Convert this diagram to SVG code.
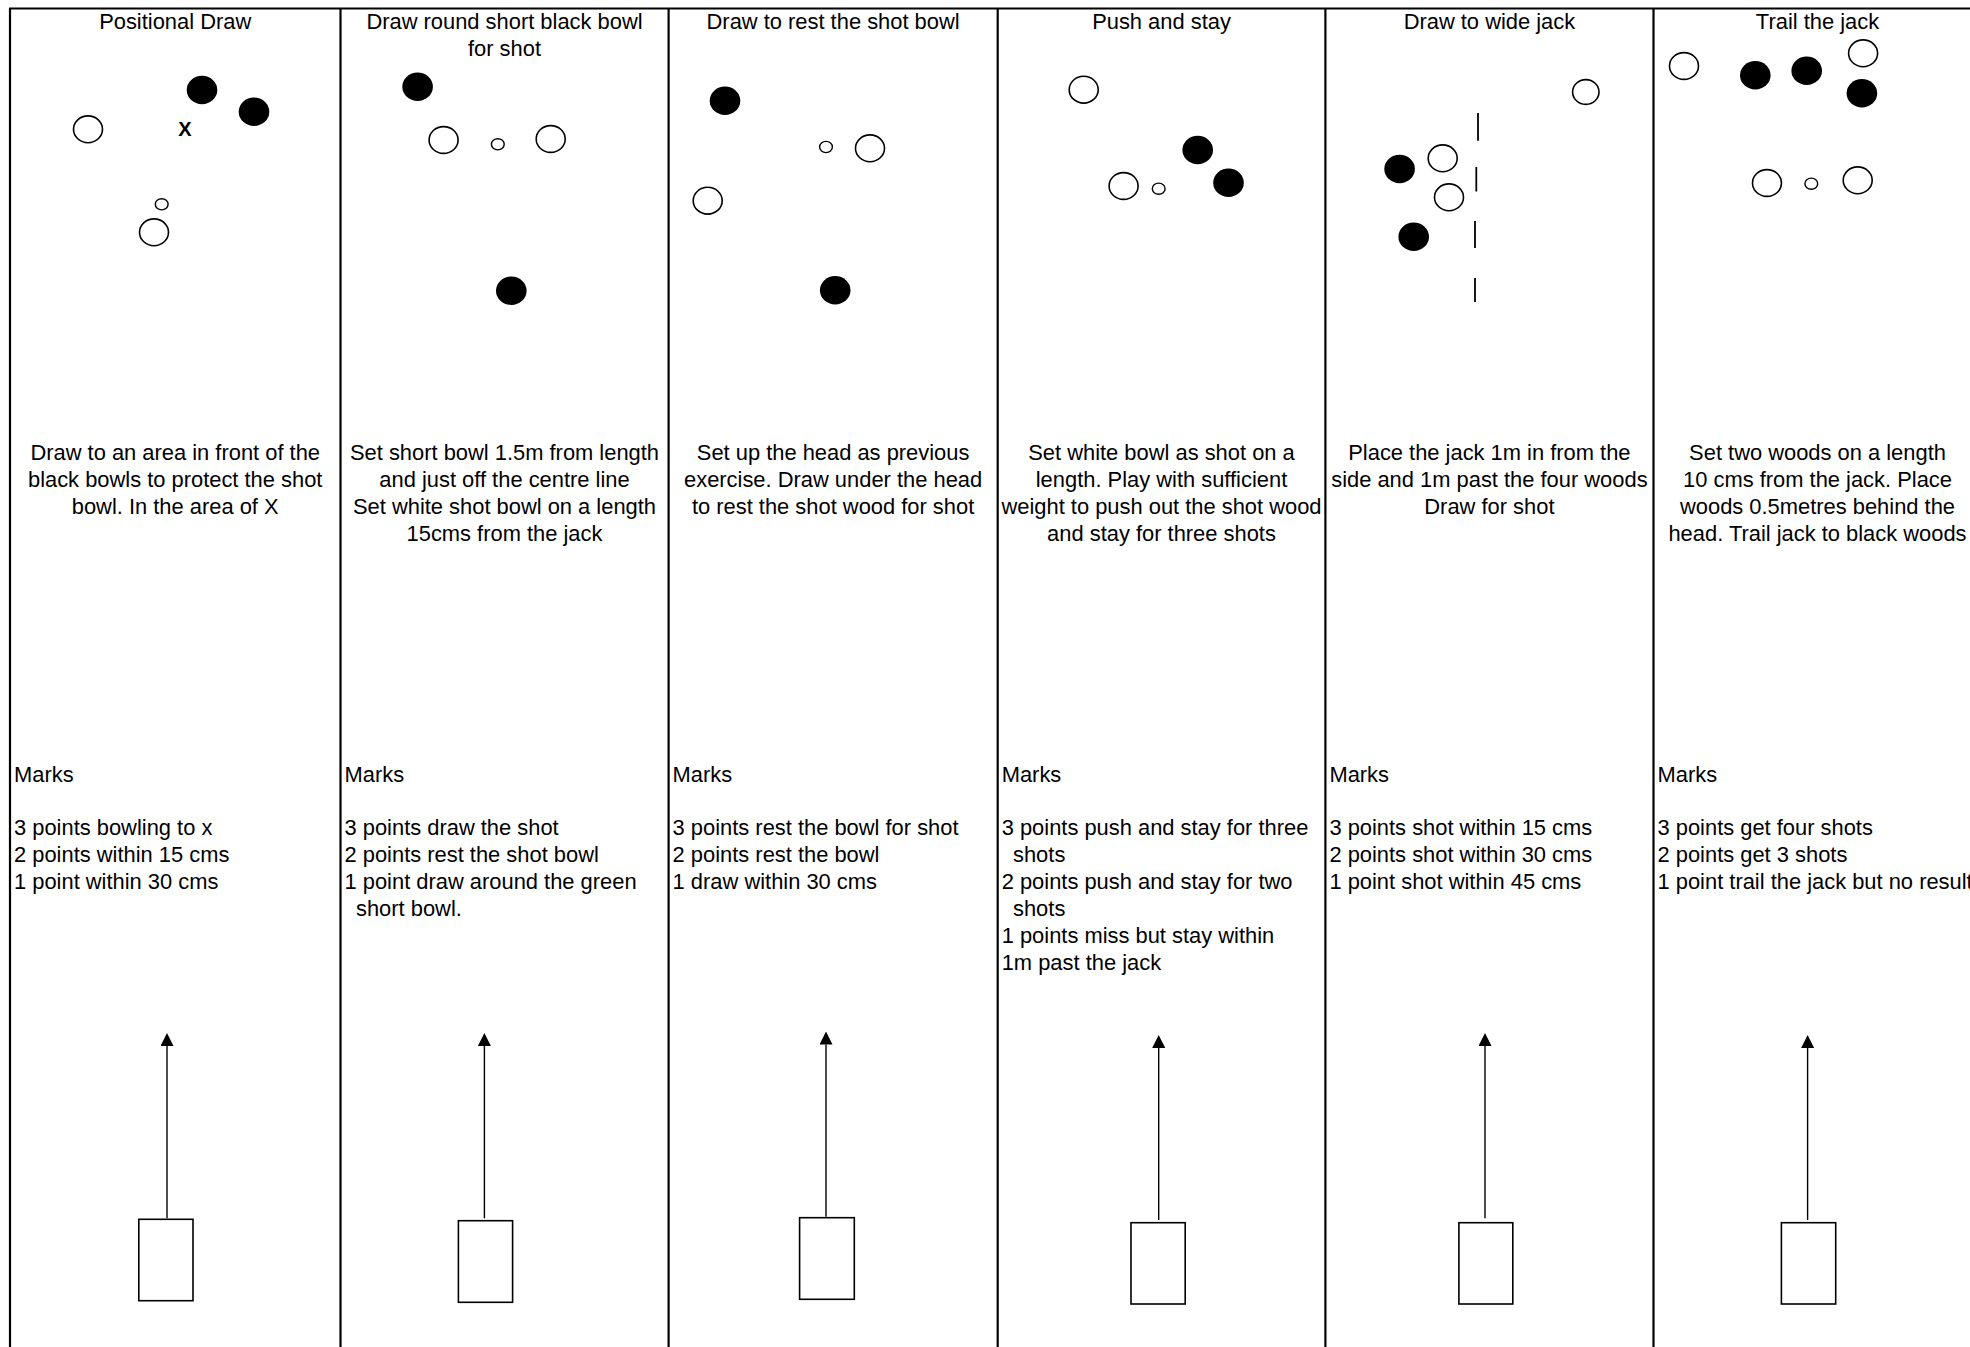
<svg xmlns="http://www.w3.org/2000/svg" width="1970" height="1347" viewBox="0 0 1970 1347">
<style>
  .frame { stroke:#000; stroke-width:2.2; fill:none; }
  .w { fill:#fff; stroke:#000; stroke-width:1.6; }
  .b { fill:#000; }
  .jack { fill:#fff; stroke:#000; stroke-width:1.4; }
  .mat { fill:#fff; stroke:#000; stroke-width:1.6; }
  .dash { stroke:#000; stroke-width:1.8; }
  .arrow { stroke:#000; stroke-width:1.4; fill:none; marker-end:url(#ah); }
  text { font-family:"Liberation Sans", Arial, sans-serif; font-size:21.9px; fill:#000; }
  .c { text-anchor:middle; }
  .xm { font-weight:bold; font-size:20px; text-anchor:middle; }
</style>
<defs>
  <marker id="ah" markerUnits="userSpaceOnUse" viewBox="0 0 10 10" markerWidth="13" markerHeight="13" refX="0" refY="5" orient="auto">
    <path d="M0,0 L10,5 L0,10 z" fill="#000"/>
  </marker>
</defs>
<rect width="1970" height="1347" fill="#fff"/>

<g id="frame">
  <line class="frame" x1="9" y1="8.5" x2="1970" y2="8.5"/>
  <line class="frame" x1="10" y1="8.5" x2="10" y2="1347"/>
  <line class="frame" x1="340.5" y1="8.5" x2="340.5" y2="1347"/>
  <line class="frame" x1="668.6" y1="8.5" x2="668.6" y2="1347"/>
  <line class="frame" x1="997.7" y1="8.5" x2="997.7" y2="1347"/>
  <line class="frame" x1="1325.4" y1="8.5" x2="1325.4" y2="1347"/>
  <line class="frame" x1="1653.5" y1="8.5" x2="1653.5" y2="1347"/>
</g>

<g id="panel-1">
  <text class="c" x="175.2" y="29.3">Positional Draw</text>
  <ellipse class="b" cx="202" cy="90" rx="15.3" ry="14.2"/>
  <ellipse class="b" cx="254" cy="111.7" rx="15.3" ry="14.2"/>
  <ellipse class="w" cx="88" cy="129.3" rx="14.5" ry="13.4"/>
  <text class="xm" x="185" y="136">X</text>
  <ellipse class="jack" cx="161.7" cy="204.3" rx="6.4" ry="5.6"/>
  <ellipse class="w" cx="154" cy="232.3" rx="14.5" ry="13.4"/>
  <text class="c" x="175.2" y="459.5">Draw to an area in front of the</text>
  <text class="c" x="175.2" y="486.5">black bowls to protect the shot</text>
  <text class="c" x="175.2" y="513.5">bowl. In the area of X</text>
  <text x="14" y="781.7">Marks</text>
  <text x="14" y="834.5">3 points bowling to x</text>
  <text x="14" y="861.5">2 points within 15 cms</text>
  <text x="14" y="888.5">1 point within 30 cms</text>
  <rect class="mat" x="138.8" y="1219.3" width="54.2" height="81.4"/>
</g>

<g id="panel-2">
  <text class="c" x="504.5" y="29.3">Draw round short black bowl</text>
  <text class="c" x="504.5" y="56">for shot</text>
  <ellipse class="b" cx="417.6" cy="86.7" rx="15.3" ry="14.2"/>
  <ellipse class="w" cx="443.6" cy="140" rx="14.5" ry="13.4"/>
  <ellipse class="jack" cx="497.8" cy="144.3" rx="6.4" ry="5.6"/>
  <ellipse class="w" cx="550.7" cy="139" rx="14.5" ry="13.4"/>
  <ellipse class="b" cx="511.3" cy="290.7" rx="15.3" ry="14.2"/>
  <text class="c" x="504.5" y="459.5">Set short bowl 1.5m from length</text>
  <text class="c" x="504.5" y="486.5">and just off the centre line</text>
  <text class="c" x="504.5" y="513.5">Set white shot bowl on a length</text>
  <text class="c" x="504.5" y="540.5">15cms from the jack</text>
  <text x="344.5" y="781.7">Marks</text>
  <text x="344.5" y="834.5">3 points draw the shot</text>
  <text x="344.5" y="861.5">2 points rest the shot bowl</text>
  <text x="344.5" y="888.5">1 point draw around the green</text>
  <text x="356" y="915.5">short bowl.</text>
  <rect class="mat" x="458.4" y="1220.7" width="54.2" height="81.6"/>
</g>

<g id="panel-3">
  <text class="c" x="833.1" y="29.3">Draw to rest the shot bowl</text>
  <ellipse class="b" cx="725" cy="100.7" rx="15.3" ry="14.2"/>
  <ellipse class="jack" cx="826" cy="147" rx="6.4" ry="5.6"/>
  <ellipse class="w" cx="870" cy="148.3" rx="14.5" ry="13.4"/>
  <ellipse class="w" cx="707.7" cy="200.7" rx="14.5" ry="13.4"/>
  <ellipse class="b" cx="835.2" cy="290.3" rx="15.3" ry="14.2"/>
  <text class="c" x="833.1" y="459.5">Set up the head as previous</text>
  <text class="c" x="833.1" y="486.5">exercise. Draw under the head</text>
  <text class="c" x="833.1" y="513.5">to rest the shot wood for shot</text>
  <text x="672.6" y="781.7">Marks</text>
  <text x="672.6" y="834.5">3 points rest the bowl for shot</text>
  <text x="672.6" y="861.5">2 points rest the bowl</text>
  <text x="672.6" y="888.5">1 draw within 30 cms</text>
  <rect class="mat" x="799.6" y="1217.7" width="54.7" height="81.6"/>
</g>

<g id="panel-4">
  <text class="c" x="1161.5" y="29.3">Push and stay</text>
  <ellipse class="w" cx="1083.7" cy="89.7" rx="14.5" ry="13.4"/>
  <ellipse class="b" cx="1197.7" cy="150" rx="15.3" ry="14.2"/>
  <ellipse class="w" cx="1123.6" cy="186" rx="14.5" ry="13.4"/>
  <ellipse class="jack" cx="1158.7" cy="188.7" rx="6.4" ry="5.6"/>
  <ellipse class="b" cx="1228.5" cy="182.7" rx="15.3" ry="14.2"/>
  <text class="c" x="1161.5" y="459.5">Set white bowl as shot on a</text>
  <text class="c" x="1161.5" y="486.5">length. Play with sufficient</text>
  <text class="c" x="1161.5" y="513.5">weight to push out the shot wood</text>
  <text class="c" x="1161.5" y="540.5">and stay for three shots</text>
  <text x="1001.7" y="781.7">Marks</text>
  <text x="1001.7" y="834.5">3 points push and stay for three</text>
  <text x="1013" y="861.5">shots</text>
  <text x="1001.7" y="888.5">2 points push and stay for two</text>
  <text x="1013" y="915.5">shots</text>
  <text x="1001.7" y="942.5">1 points miss but stay within</text>
  <text x="1001.7" y="969.5">1m past the jack</text>
  <rect class="mat" x="1131" y="1222.7" width="54.2" height="81.3"/>
</g>

<g id="panel-5">
  <text class="c" x="1489.4" y="29.3">Draw to wide jack</text>
  <ellipse class="w" cx="1585.8" cy="92" rx="13.2" ry="12.4"/>
  <line class="dash" x1="1478" y1="113" x2="1478" y2="140.7"/>
  <line class="dash" x1="1476.3" y1="167" x2="1476.3" y2="191.5"/>
  <line class="dash" x1="1475" y1="221" x2="1475" y2="248"/>
  <line class="dash" x1="1475" y1="278" x2="1475" y2="302"/>
  <ellipse class="b" cx="1399.6" cy="169" rx="15.3" ry="14.2"/>
  <ellipse class="w" cx="1442.7" cy="158.3" rx="14.5" ry="13.4"/>
  <ellipse class="w" cx="1449" cy="197.3" rx="14.5" ry="13.4"/>
  <ellipse class="b" cx="1413.7" cy="236.7" rx="15.3" ry="14.2"/>
  <text class="c" x="1489.4" y="459.5">Place the jack 1m in from the</text>
  <text class="c" x="1489.4" y="486.5">side and 1m past the four woods</text>
  <text class="c" x="1489.4" y="513.5">Draw for shot</text>
  <text x="1329.4" y="781.7">Marks</text>
  <text x="1329.4" y="834.5">3 points shot within 15 cms</text>
  <text x="1329.4" y="861.5">2 points shot within 30 cms</text>
  <text x="1329.4" y="888.5">1 point shot within 45 cms</text>
  <rect class="mat" x="1458.9" y="1222.7" width="53.9" height="81.3"/>
</g>

<g id="panel-6">
  <text class="c" x="1817.5" y="29.3">Trail the jack</text>
  <ellipse class="w" cx="1684" cy="66" rx="14.5" ry="13.4"/>
  <ellipse class="b" cx="1755.3" cy="75.3" rx="15.3" ry="14.2"/>
  <ellipse class="b" cx="1806.7" cy="70.7" rx="15.3" ry="14.2"/>
  <ellipse class="w" cx="1863.1" cy="53.3" rx="14.5" ry="13.4"/>
  <ellipse class="b" cx="1861.9" cy="93.3" rx="15.3" ry="14.2"/>
  <ellipse class="w" cx="1767" cy="183" rx="14.5" ry="13.4"/>
  <ellipse class="jack" cx="1811.3" cy="183.7" rx="6.4" ry="5.6"/>
  <ellipse class="w" cx="1857.7" cy="180.3" rx="14.5" ry="13.4"/>
  <text class="c" x="1817.5" y="459.5">Set two woods on a length</text>
  <text class="c" x="1817.5" y="486.5">10 cms from the jack. Place</text>
  <text class="c" x="1817.5" y="513.5">woods 0.5metres behind the</text>
  <text class="c" x="1817.5" y="540.5">head. Trail jack to black woods</text>
  <text x="1657.5" y="781.7">Marks</text>
  <text x="1657.5" y="834.5">3 points get four shots</text>
  <text x="1657.5" y="861.5">2 points get 3 shots</text>
  <text x="1657.5" y="888.5">1 point trail the jack but no result</text>
  <rect class="mat" x="1781.4" y="1222.7" width="54.3" height="81.3"/>
</g>

<g id="connectors">
  <line class="arrow" x1="167" y1="1218.3" x2="167" y2="1046"/>
  <line class="arrow" x1="484.4" y1="1218.3" x2="484.4" y2="1046"/>
  <line class="arrow" x1="826" y1="1216.7" x2="826" y2="1044.5"/>
  <line class="arrow" x1="1158.7" y1="1220" x2="1158.7" y2="1048"/>
  <line class="arrow" x1="1485" y1="1218.3" x2="1485" y2="1046"/>
  <line class="arrow" x1="1807.6" y1="1220" x2="1807.6" y2="1048"/>
</g>
</svg>
